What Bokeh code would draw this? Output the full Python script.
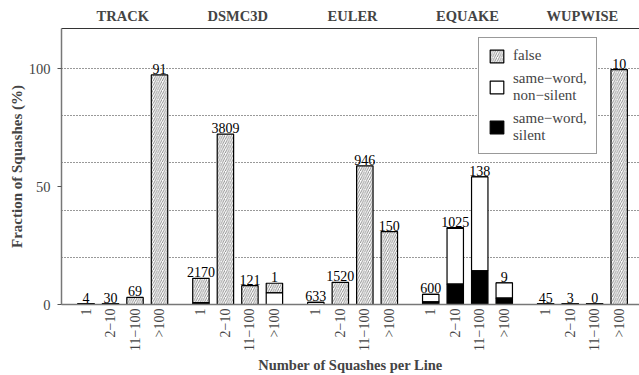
from bokeh.plotting import figure
from bokeh.models import (ColumnDataSource, FixedTicker, LinearAxis, Legend, LegendItem, Range1d)
from bokeh.core.properties import value
from bokeh.embed import file_html
from bokeh.resources import INLINE

groups = ["TRACK", "DSMC3D", "EULER", "EQUAKE", "WUPWISE"]
bins = ["1", "2\u221210", "11\u2212100", ">100"]
counts = [[4, 30, 69, 91], [2170, 3809, 121, 1], [633, 1520, 946, 150],
          [600, 1025, 138, 9], [45, 3, 0, 10]]
silent = [[0.4, 0.4, 0, 0], [0.3, 0, 0, 0], [0, 0, 0, 0],
          [1.1, 8.6, 14.3, 2.7], [0.4, 0.4, 0.4, 0]]
nonsilent = [[0, 0, 0, 0], [0.5, 0, 0, 4.9], [0.9, 0, 0, 0],
             [3.2, 23.7, 39.8, 6.5], [0, 0, 0, 0]]
false_sq = [[0, 0, 3.0, 97.3], [10.3, 72.2, 8.0, 4.1], [0, 9.4, 58.8, 30.9],
            [0, 0.3, 0, 0], [0, 0, 0, 99.6]]

GROUP_STEP = 4.69
FONT = "Liberation Serif"

xs, s_top, n_top, f_top, labels, tick_labels = [], [], [], [], [], {}
for g in range(len(groups)):
    for i in range(len(bins)):
        x = round(g * GROUP_STEP + i, 2)
        xs.append(x)
        s = silent[g][i]
        n = s + nonsilent[g][i]
        f = n + false_sq[g][i]
        s_top.append(s); n_top.append(n); f_top.append(f)
        labels.append(str(counts[g][i]))
        tick_labels[x] = bins[i]
group_centers = [round(g * GROUP_STEP + 1.5, 2) for g in range(len(groups))]

src = ColumnDataSource(dict(x=xs, s=s_top, n=n_top, f=f_top, lab=labels,
                            zero=[0] * len(xs)))

p = figure(width=639, height=375, output_backend="svg", toolbar_location=None,
           x_range=Range1d(-1.0, 22.59), y_range=Range1d(0, 117),
           min_border_left=61, min_border_top=28, min_border_bottom=71,
           min_border_right=0, x_axis_location="below")
p.outline_line_color = None
p.background_fill_color = "white"

W = 0.67
r_false = p.vbar(x="x", bottom="n", top="f", width=W, source=src,
                 fill_color="white", hatch_pattern="/", hatch_color="#707070",
                 hatch_scale=4.5, hatch_weight=0.8, line_color="black", line_width=1.2)
r_non = p.vbar(x="x", bottom="s", top="n", width=W, source=src,
               fill_color="white", line_color="black", line_width=1.2)
r_sil = p.vbar(x="x", bottom="zero", top="s", width=W, source=src,
               fill_color="black", line_color="black", line_width=1.2)

p.text(x="x", y="f", text="lab", source=src, text_align="center",
       text_baseline="alphabetic", y_offset=-6, text_font=value(FONT),
       text_font_size="14px", text_color="black")

# grid
p.xgrid.visible = False
p.ygrid.ticker = FixedTicker(ticks=[20, 40, 60, 80, 100])
p.ygrid.grid_line_color = "#333333"
p.ygrid.grid_line_dash = "1 2"
p.ygrid.grid_line_width = 1

# y axis
ya = p.yaxis[0]
ya.ticker = FixedTicker(ticks=[0, 50, 100])
ya.axis_label = "Fraction of Squashes (%)"
ya.axis_label_text_font = FONT
ya.axis_label_text_font_style = "bold"
ya.axis_label_text_font_size = "15px"
ya.axis_label_standoff = 1
ya.major_label_text_font = FONT
ya.major_label_text_font_size = "14.5px"
ya.major_label_standoff = 7
ya.major_tick_out = 4
ya.major_tick_in = 0
ya.minor_tick_out = 0
ya.minor_tick_in = 0
ya.axis_line_color = "#777777"
ya.axis_line_width = 1.5
ya.major_tick_line_color = "#555555"

# x axis
xa = p.xaxis[0]
xa.ticker = FixedTicker(ticks=xs)
xa.major_label_overrides = tick_labels
xa.major_label_orientation = 1.5708
xa.axis_label = "Number of Squashes per Line"
xa.axis_label_text_font = FONT
xa.axis_label_text_font_style = "bold"
xa.axis_label_text_font_size = "14.5px"
xa.axis_label_standoff = 3
xa.major_label_text_font = FONT
xa.major_label_text_font_size = "14px"
xa.major_label_standoff = 4
xa.major_tick_out = 0
xa.major_tick_in = 0
xa.minor_tick_out = 0
xa.minor_tick_in = 0
xa.axis_line_color = "#777777"
xa.axis_line_width = 1.5

# group titles on top
top = LinearAxis(ticker=FixedTicker(ticks=group_centers),
                 major_label_overrides={c: g for c, g in zip(group_centers, groups)})
top.major_label_text_font = FONT
top.major_label_text_font_style = "bold"
top.major_label_text_font_size = "14.5px"
top.major_label_standoff = 5
top.major_tick_out = 0
top.major_tick_in = 0
top.minor_tick_out = 0
top.minor_tick_in = 0
top.axis_line_color = "#333333"
top.axis_line_width = 1.2
p.add_layout(top, "above")

legend = Legend(items=[
    LegendItem(label="false", renderers=[r_false]),
    LegendItem(label="same\u2212word,\nnon\u2212silent", renderers=[r_non]),
    LegendItem(label="same\u2212word,\nsilent", renderers=[r_sil]),
], location=(417, 150))
legend.label_text_font = FONT
legend.label_text_font_size = "15px"
legend.glyph_width = 17
legend.glyph_height = 16
legend.label_standoff = 8
legend.border_line_color = "#333333"
legend.border_line_width = 1.2
legend.background_fill_alpha = 1
legend.padding = 9
legend.spacing = 6
p.add_layout(legend, "center")

open("out.html", "w").write(file_html(p, INLINE))
